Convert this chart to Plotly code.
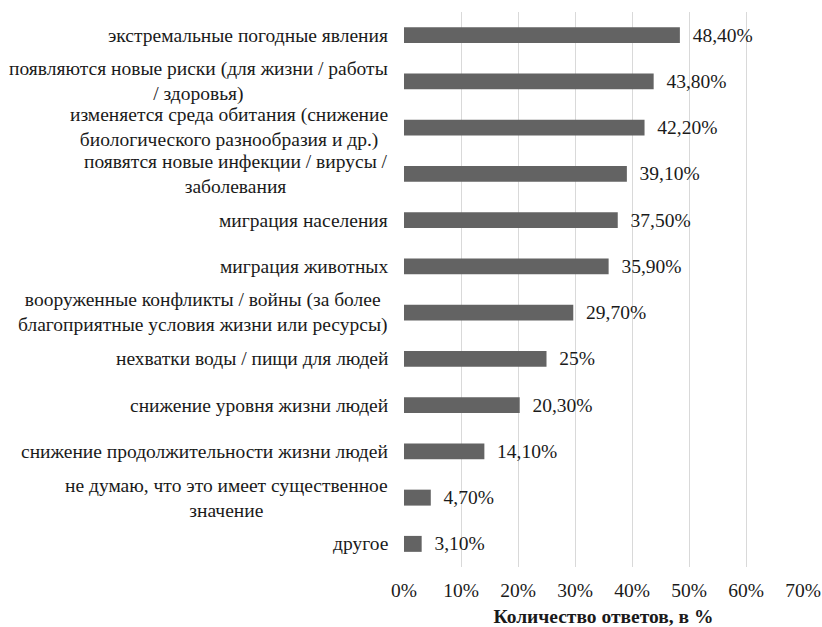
import plotly.graph_objects as go

# Survey answers: perceived consequences of climate change
categories = [
    "экстремальные погодные явления",
    "появляются новые риски (для жизни / работы<br>/ здоровья)",
    "изменяется среда обитания (снижение<br>биологического разнообразия и др.)",
    "появятся новые инфекции / вирусы /<br>заболевания",
    "миграция населения",
    "миграция животных",
    "вооруженные конфликты / войны (за более<br>благоприятные условия жизни или ресурсы)",
    "нехватки воды / пищи для людей",
    "снижение уровня жизни людей",
    "снижение продолжительности жизни людей",
    "не думаю, что это имеет существенное<br>значение",
    "другое",
]
shares = [48.4, 43.8, 42.2, 39.1, 37.5, 35.9, 29.7, 25.0, 20.3, 14.1, 4.7, 3.1]
tick_values = [0, 10, 20, 30, 40, 50, 60, 70]
tick_labels = ["0%", "10%", "20%", "30%", "40%", "50%", "60%", "70%"]
axis_title = "Количество ответов, в %"

FONT = "Liberation Serif"
SIZE = 19.5
TEXT_COLOR = "#1a1a1a"


def fmt(v):
    if float(v).is_integer():
        return f"{int(v)}%"
    return f"{v:.2f}".replace(".", ",") + "%"


keys = [c.replace("<br>", " ") for c in categories]

fig = go.Figure(
    go.Bar(
        x=shares,
        y=keys,
        orientation="h",
        marker=dict(color="#636363", line=dict(width=0)),
        text=["\u2002" + fmt(v) for v in shares],
        textposition="outside",
        constraintext="none",
        cliponaxis=False,
        textfont=dict(family=FONT, size=SIZE, color=TEXT_COLOR),
        hoverinfo="skip",
    )
)

# Category labels as right-anchored annotations with centred lines
for key, label in zip(keys, categories):
    fig.add_annotation(
        x=0, y=key, xref="paper", yref="y",
        text=label, showarrow=False,
        xanchor="right", yanchor="middle", align="center",
        xshift=-14,
        font=dict(family=FONT, size=SIZE, color=TEXT_COLOR),
    )

fig.update_layout(
    width=822, height=627,
    margin=dict(l=404, r=19, t=12, b=60, autoexpand=False),
    paper_bgcolor="white", plot_bgcolor="white",
    bargap=0.655,
    showlegend=False,
    font=dict(family=FONT, size=SIZE, color=TEXT_COLOR),
    xaxis=dict(
        range=[0, 70],
        automargin=False,
        tickvals=tick_values, ticktext=tick_labels,
        showgrid=True, gridcolor="#d9d9d9", gridwidth=1,
        zeroline=False, showline=False,
        ticks="", ticklabelstandoff=9,
        tickfont=dict(family=FONT, size=SIZE, color=TEXT_COLOR),
        title=dict(text="<b>" + axis_title + "</b>", standoff=10,
                   font=dict(family=FONT, size=SIZE, color=TEXT_COLOR)),
    ),
    yaxis=dict(
        categoryorder="array", categoryarray=keys,
        autorange="reversed", automargin=False,
        showticklabels=False, showgrid=False,
        zeroline=False, showline=False, ticks="",
    ),
)

fig.write_html("out.html")
